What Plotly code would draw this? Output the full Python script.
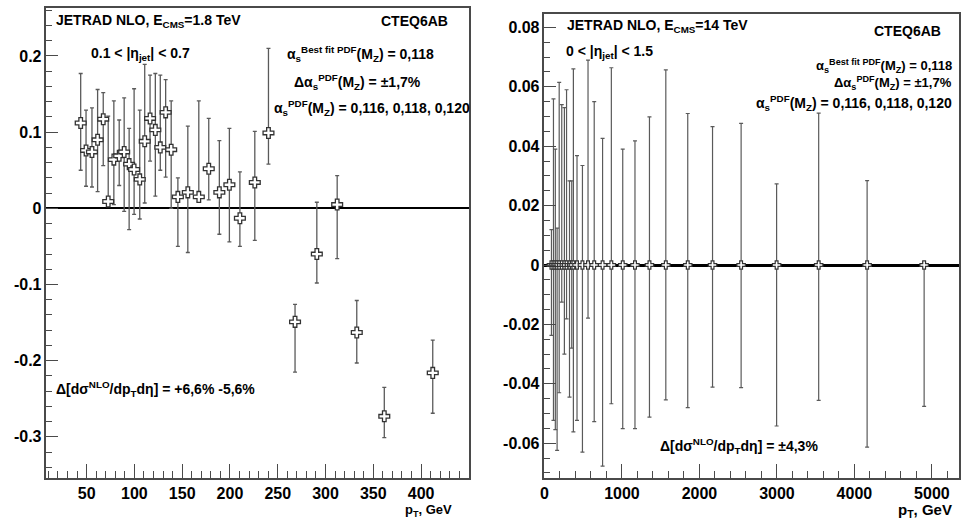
import plotly.graph_objects as go

# ---------------- Left panel data (Tevatron, 1.8 TeV) ----------------
left_pt = [43.8, 49.4, 55.6, 61.5, 67.4, 72.6, 78.5, 84.1, 89.3, 94.5, 99.7, 105.6,
           110.8, 116.4, 121.9, 127.1, 132.7, 138.5, 145.5, 155.9, 167.4, 177.8,
           188.9, 199.4, 210.4, 226.0, 240.3, 268.1, 290.9, 312.2, 332.7, 361.5, 412.2]
left_val = [0.112, 0.076, 0.074, 0.090, 0.117, 0.009, 0.064, 0.069, 0.074, 0.058, 0.051, 0.038,
            0.088, 0.118, 0.103, 0.080, 0.126, 0.077, 0.015, 0.021, 0.015, 0.052,
            0.021, 0.031, -0.013, 0.034, 0.099, -0.149, -0.060, 0.005, -0.163, -0.273, -0.216]
left_hi = [0.177, 0.129, 0.132, 0.156, 0.152, 0.121, 0.141, 0.116, 0.145, 0.105, 0.157, 0.129,
           0.189, 0.175, 0.177, 0.175, 0.169, 0.141, 0.040, 0.108, 0.141, 0.118,
           0.089, 0.105, 0.048, 0.101, 0.210, -0.126, 0.008, 0.043, -0.121, -0.235, -0.173]
left_lo = [0.050, 0.029, 0.028, 0.022, 0.056, 0.005, 0.005, 0.030, -0.004, -0.028, -0.008, -0.014,
           0.007, 0.062, 0.016, 0.050, 0.041, 0.000, -0.050, -0.058, 0.009, 0.011,
           -0.034, -0.044, -0.050, -0.042, 0.058, -0.215, -0.098, -0.066, -0.203, -0.301, -0.269]

# ---------------- Right panel data (LHC, 14 TeV) ----------------
right_pt = [90, 116, 140, 163, 190, 223, 257, 285, 323, 352, 373, 420, 490, 562, 642, 750,
            863, 1010, 1168, 1355, 1566, 1849, 2169, 2538, 2996, 3539, 4164, 4900]
right_val = [0.0] * len(right_pt)
right_hi = [0.0119, 0.0559, 0.0390, 0.0124, 0.0615, 0.0540, 0.0530, 0.0590, 0.0283, 0.0283, 0.0660,
            0.0368, 0.0335, 0.0690, 0.0550, 0.0426, 0.0664, 0.0390, 0.0418, 0.0499, 0.0657,
            0.0510, 0.0466, 0.0477, 0.0273, 0.0511, 0.0284, 0.0010]
right_lo = [-0.0237, -0.0523, -0.0554, -0.0624, -0.0430, -0.0125, -0.0300, -0.0181, -0.0445, -0.0280,
            -0.0562, -0.0523, -0.0630, -0.0179, -0.0527, -0.0677, -0.0467, -0.0551, -0.0551,
            -0.0512, -0.0454, -0.0480, -0.0411, -0.0413, -0.0542, -0.0456, -0.0613, -0.0476]

left_yticks = [-0.3, -0.2, -0.1, 0.0, 0.1, 0.2]
left_yticktext = ["-0.3", "-0.2", "-0.1", "0", "0.1", "0.2"]
left_xticks = [50, 100, 150, 200, 250, 300, 350, 400]
right_yticks = [-0.06, -0.04, -0.02, 0.0, 0.02, 0.04, 0.06, 0.08]
right_yticktext = ["-0.06", "-0.04", "-0.02", "0", "0.02", "0.04", "0.06", "0.08"]
right_xticks = [0, 1000, 2000, 3000, 4000, 5000]

W, H = 961, 520
FONT = "Liberation Sans, Arial, sans-serif"
FRAME = "#4a4a4a"
ERRC = "#5a5a5a"


def px2x(p):
    return p / W


def px2y(p):
    return 1 - p / H


fig = go.Figure()

fig.add_trace(go.Scatter(
    x=left_pt, y=left_val, mode="markers", xaxis="x", yaxis="y",
    marker=dict(symbol="cross", size=9, color="white", line=dict(color="#333333", width=1.3)),
    error_y=dict(type="data", symmetric=False,
                 array=[h - v for h, v in zip(left_hi, left_val)],
                 arrayminus=[v - l for l, v in zip(left_lo, left_val)],
                 color=ERRC, thickness=1.3, width=2),
    showlegend=False))

fig.add_trace(go.Scatter(
    x=right_pt, y=right_val, mode="markers", xaxis="x2", yaxis="y2",
    marker=dict(symbol="cross", size=7, color="white", line=dict(color="#333333", width=1.2)),
    error_y=dict(type="data", symmetric=False,
                 array=[h - v for h, v in zip(right_hi, right_val)],
                 arrayminus=[v - l for l, v in zip(right_lo, right_val)],
                 color=ERRC, thickness=1.2, width=2),
    showlegend=False))

tickfont = dict(family=FONT, size=16, color="black", weight="bold")

common_axis = dict(showline=True, linecolor=FRAME, linewidth=1.5, mirror=True,
                   showgrid=False, ticks="inside", tickcolor=FRAME, tickwidth=1,
                   tickfont=tickfont)

fig.update_layout(
    width=W, height=H, margin=dict(l=0, r=0, t=0, b=0),
    paper_bgcolor="white", plot_bgcolor="white",
    xaxis=dict(domain=[px2x(42.7), px2x(467.3)], range=[8, 450], anchor="y",
               tickvals=left_xticks, ticklen=14,
               minor=dict(dtick=10, ticklen=7, ticks="inside", tickcolor=FRAME),
               zeroline=False, **common_axis),
    yaxis=dict(domain=[px2y(478), px2y(8)], range=[-0.354, 0.263], anchor="x",
               tickvals=left_yticks, ticktext=left_yticktext, ticklen=12,
               minor=dict(dtick=0.02, ticklen=6, ticks="inside", tickcolor=FRAME),
               zeroline=True, zerolinecolor="black", zerolinewidth=2, **common_axis),
    xaxis2=dict(domain=[px2x(543.3), px2x(960)], range=[0, 5350], anchor="y2",
                tickvals=right_xticks, ticklen=14,
                minor=dict(dtick=200, ticklen=7, ticks="inside", tickcolor=FRAME),
                zeroline=False, **common_axis),
    yaxis2=dict(domain=[px2y(478), px2y(14)], range=[-0.0717, 0.0845], anchor="x2",
                tickvals=right_yticks, ticktext=right_yticktext, ticklen=12,
                minor=dict(dtick=0.005, ticklen=6, ticks="inside", tickcolor=FRAME),
                zeroline=True, zerolinecolor="black", zerolinewidth=2.5, **common_axis),
)


def note(text, px, py, anchor="left", size=14):
    fig.add_annotation(text=text, x=px2x(px), y=px2y(py), xref="paper", yref="paper",
                       xanchor=anchor, yanchor="middle", showarrow=False,
                       font=dict(family=FONT, size=size, color="black", weight="bold"))


# left panel texts
note("JETRAD NLO, E<sub>CMS</sub>=1.8 TeV", 50, 21)
note("CTEQ6AB", 448, 21, "right")
note("0.1 &lt; |η<sub>jet</sub>| &lt; 0.7", 85, 54)
note("α<sub>s</sub><sup>Best fit PDF</sup>(M<sub>Z</sub>) = 0,118", 282, 54)
note("Δα<sub>s</sub><sup>PDF</sup>(M<sub>Z</sub>) = ±1,7%", 290, 82)
note("α<sub>s</sub><sup>PDF</sup>(M<sub>Z</sub>) = 0,116, 0,118, 0,120", 269, 108)
note("Δ[dσ<sup>NLO</sup>/dp<sub>T</sub>dη] = +6,6% -5,6%", 50, 389)
note("p<sub>T</sub>, GeV", 452, 510, "right", 13)

# right panel texts
note("JETRAD NLO, E<sub>CMS</sub>=14 TeV", 564, 26)
note("CTEQ6AB", 944, 31, "right")
note("0 &lt; |η<sub>jet</sub>| &lt; 1.5", 563, 52)
note("α<sub>s</sub><sup>Best fit PDF</sup>(M<sub>Z</sub>) = 0,118", 955, 66, "right", 13)
note("Δα<sub>s</sub><sup>PDF</sup>(M<sub>Z</sub>) = ±1,7%", 955, 83, "right", 13)
note("α<sub>s</sub><sup>PDF</sup>(M<sub>Z</sub>) = 0,116, 0,118, 0,120", 955, 103, "right", 14)
note("Δ[dσ<sup>NLO</sup>/dp<sub>T</sub>dη] = ±4,3%", 657, 446)
note("p<sub>T</sub>, GeV", 955, 510, "right", 15)

fig.write_html("out.html")
